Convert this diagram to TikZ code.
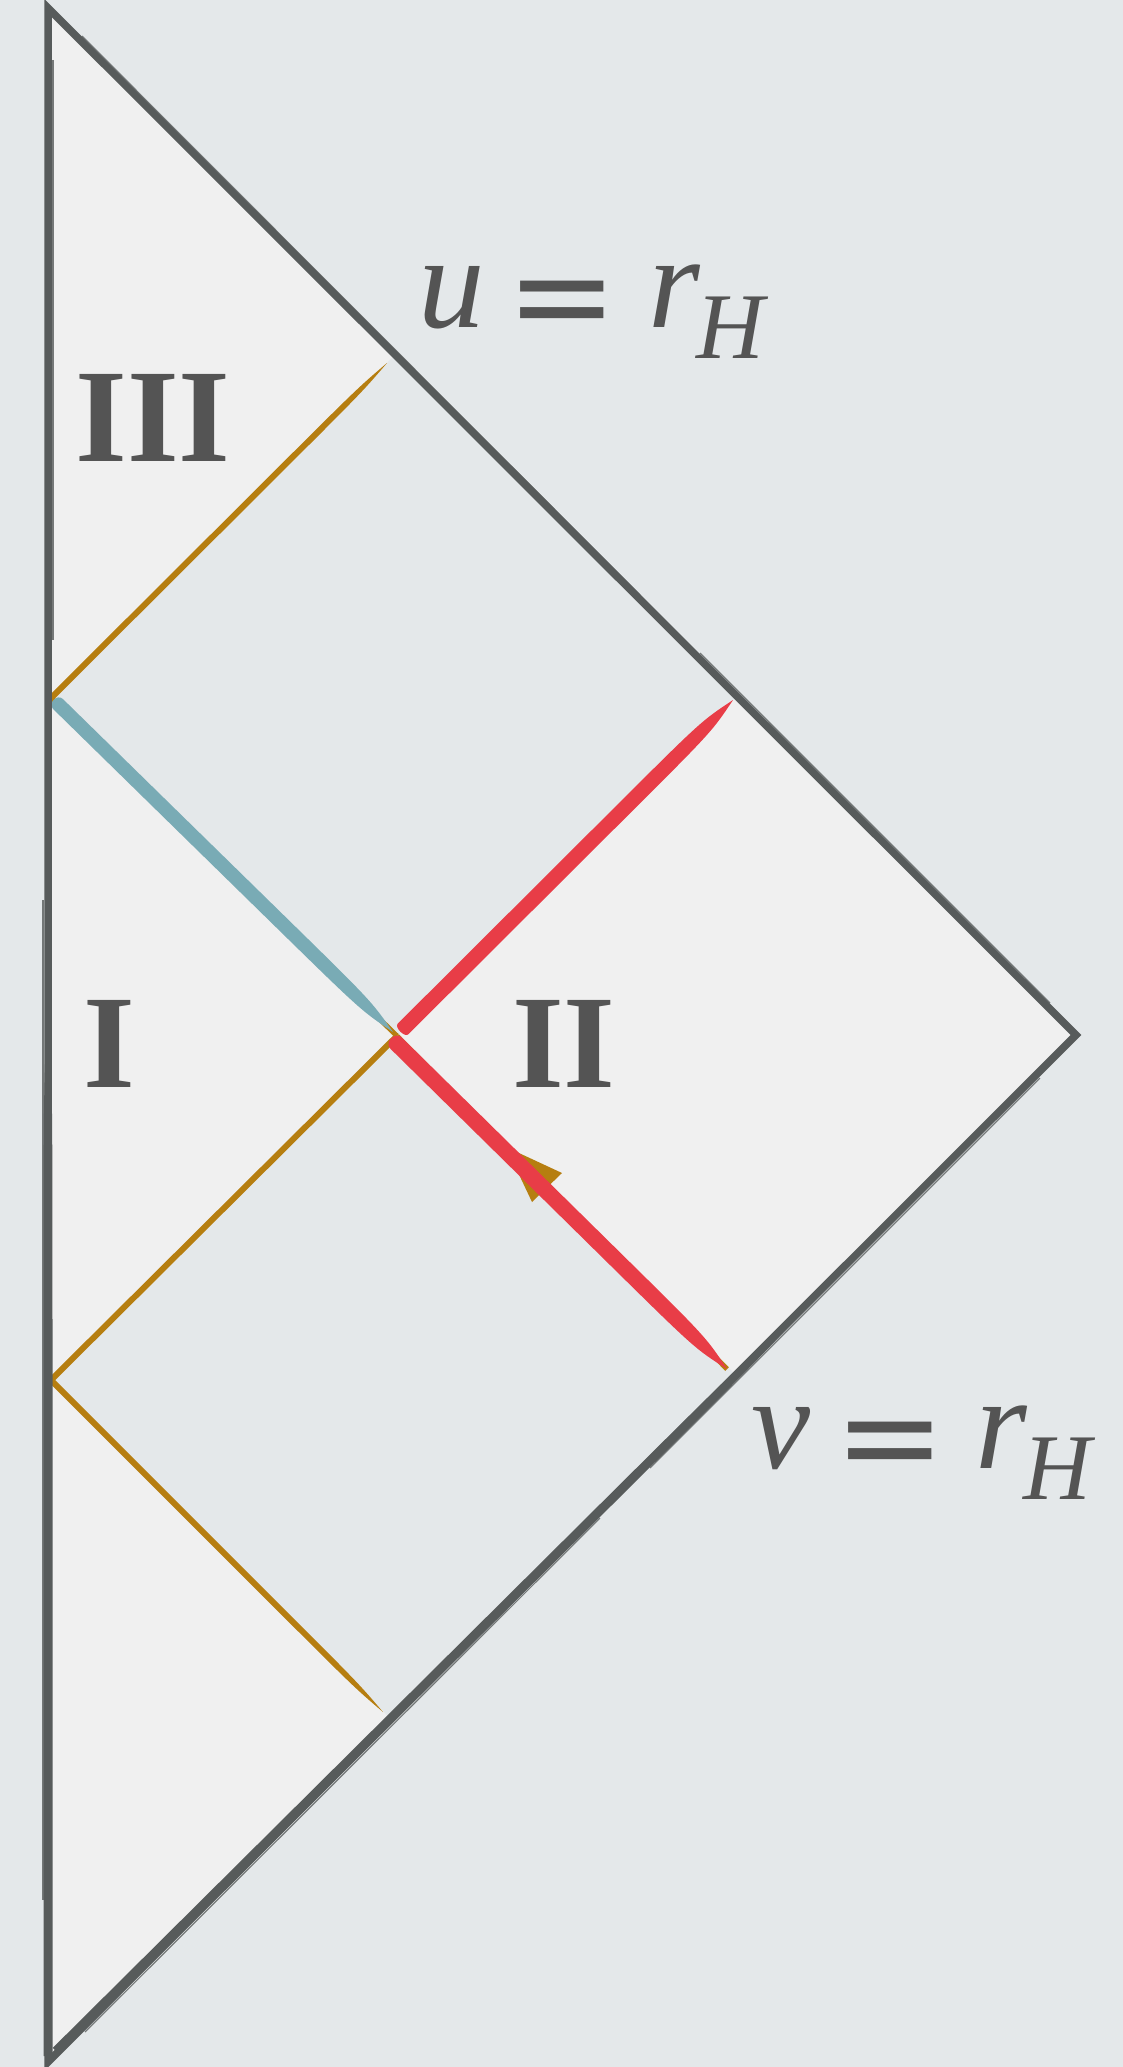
\documentclass[tikz,border=0pt]{standalone}
\usepackage{fontspec}
\setmainfont{Liberation Serif}
\newfontfamily\eqfont{DejaVu Sans}
\usetikzlibrary{calc}
\definecolor{bgc}{HTML}{E4E8EA}
\definecolor{lightc}{HTML}{F0F0F0}
\definecolor{edgec}{HTML}{575B5B}
\definecolor{redc}{HTML}{E83D47}
\definecolor{bluec}{HTML}{79ABB5}
\definecolor{orangec}{HTML}{B67E10}
\definecolor{textc}{HTML}{545454}
% #1 colour, #2 start, #3 end, #4 half width, #5 cap length
\newcommand\brushstroke[5]{%
  \coordinate (bsa) at ($(#2)!#5!180:(#3)$);
  \coordinate (bsm) at ($(#2)!0.66!(#3)$);
  \coordinate (bsn) at ($(#2)!0.92!(#3)$);
  \fill[#1] ($(#2)!#4!90:(#3)$) -- ($(bsm)!#4!90:(#3)$) .. controls ($(bsn)!#4!90:(#3)$) .. (#3)
    .. controls ($(bsn)!#4!-90:(#3)$) .. ($(bsm)!#4!-90:(#3)$) -- ($(#2)!#4!-90:(#3)$)
    .. controls ($(bsa)!#4!-90:(#3)$) and ($(bsa)!#4!90:(#3)$) .. ($(#2)!#4!90:(#3)$) -- cycle;}
\begin{document}
\begin{tikzpicture}[x=1pt,y=-1pt,
  lbl/.style={text=textc, inner sep=0pt, font=\fontsize{133}{133}\selectfont},
  num/.style={text=textc, inner sep=0pt, font=\fontsize{133}{133}\selectfont\bfseries},
  edge/.style={draw=edgec, line width=7.5pt, line join=miter},
  sketch/.style={draw=edgec, line width=1.2pt, opacity=0.8}]
\useasboundingbox (0,0) rectangle (1123,2067);
\fill[bgc] (0,0) rectangle (1123,2067);
% key points
\coordinate (T) at (48,8);
\coordinate (B) at (48,2062);
\coordinate (R) at (1076,1035);
\coordinate (C) at (397,1036);
\coordinate (L1) at (51,698);
\coordinate (L2) at (51,1380);
\coordinate (H1) at (395,355);
\coordinate (H2) at (392,1720);
\coordinate (R1) at (737,696);
\coordinate (R2) at (737,1376);
\coordinate (O1e) at (387,363);
\coordinate (O3e) at (383,1712);
\coordinate (BLs) at (58,704);
\coordinate (BLe) at (393,1032);
\coordinate (RUs) at (403,1029);
\coordinate (RUe) at (733,700);
\coordinate (RLs) at (396,1043);
\coordinate (RLe) at (727,1369);
\coordinate (AT) at (506,1147);
\coordinate (AB1) at (562,1173);
\coordinate (AB2) at (532,1202);
% regions
\fill[lightc] (T) -- (R) -- (B) -- cycle;
\fill[bgc] (L1) -- (H1) -- (R1) -- (C) -- cycle;
\fill[bgc] (C) -- (R2) -- (H2) -- (L2) -- cycle;
% orange lines
\draw[orangec, line width=5pt] (L1) -- (C);
\draw[orangec, line width=6pt] (C) -- (L2);
\draw[orangec, line width=5pt] (C) -- (RLe);
\brushstroke{orangec}{L1}{O1e}{3pt}{0pt}
\brushstroke{orangec}{L2}{O3e}{3pt}{0pt}
\fill[orangec] (AT) -- (AB1) -- (AB2) -- cycle;
% blue and red
\brushstroke{bluec}{BLs}{BLe}{7pt}{8pt}
\brushstroke{redc}{RUs}{RUe}{7.5pt}{5pt}
\brushstroke{redc}{RLs}{RLe}{8pt}{9pt}
% outline
\draw[edge] (T) -- (R) -- (B) -- cycle;
\brushstroke{edgec}{48,2056}{48,1000}{4.5pt}{0pt}
\brushstroke{edgec}{56,2051}{820,1292}{4.5pt}{0pt}
\draw[sketch] (82,36) -- (640,595);
\draw[sketch] (700,653) -- (1050,1003);
\draw[sketch] (85,2032) -- (600,1518);
\draw[sketch] (650,1468) -- (1040,1078);
\draw[sketch] (53,60) -- (53,640);
\draw[sketch] (43,900) -- (43,1900);
% labels
\node[lbl, anchor=base west] (uh) at (418,327)
  {\textit{u}\hspace{22pt}\raisebox{-14pt}{\eqfont =}\hspace{30pt}\textit{r}\kern-4pt\raisebox{-31pt}{\fontsize{94}{94}\selectfont\textit{H}}};
\node[lbl, anchor=base west] (vh) at (751,1468)
  {\textit{v}\hspace{24pt}\raisebox{-14pt}{\eqfont =}\hspace{30pt}\textit{r}\kern-4pt\raisebox{-31pt}{\fontsize{94}{94}\selectfont\textit{H}}};
\node[num, anchor=base] (rIII) at (153,461) {III};
\node[num, anchor=base] (rI) at (109,1087) {I};
\node[num, anchor=base] (rII) at (564,1087) {II};
\end{tikzpicture}
\end{document}
